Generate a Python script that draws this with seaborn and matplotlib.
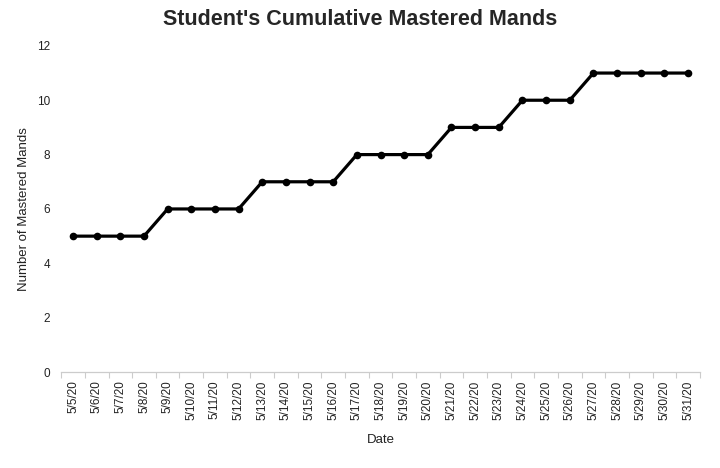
import matplotlib
matplotlib.use("Agg")
import matplotlib.pyplot as plt
import seaborn as sns
import pandas as pd

dates = ["5/5/20", "5/6/20", "5/7/20", "5/8/20", "5/9/20", "5/10/20", "5/11/20",
         "5/12/20", "5/13/20", "5/14/20", "5/15/20", "5/16/20", "5/17/20", "5/18/20",
         "5/19/20", "5/20/20", "5/21/20", "5/22/20", "5/23/20", "5/24/20", "5/25/20",
         "5/26/20", "5/27/20", "5/28/20", "5/29/20", "5/30/20", "5/31/20"]
mastered = [5, 5, 5, 5, 6, 6, 6, 6, 7, 7, 7, 7, 8, 8, 8, 8, 9, 9, 9, 10, 10, 10,
            11, 11, 11, 11, 11]
y_ticks = [0, 2, 4, 6, 8, 10, 12]

sns.set_theme(style="white")
plt.rcParams['font.family'] = ['Liberation Sans', 'DejaVu Sans']

df = pd.DataFrame({"Date": dates, "Mastered": mastered})

fig = plt.figure(figsize=(7.2, 4.68), dpi=100)
ax = fig.add_axes([0.085, 0.205, 0.887, 0.697])

sns.lineplot(data=df, x="Date", y="Mastered", sort=False, ax=ax, color="black",
             linewidth=2.3, marker="o", markersize=5.5, markeredgewidth=0)

ax.set_xlim(-0.5, len(dates) - 0.5)
ax.set_ylim(0, 12)
ax.set_yticks(y_ticks)
ax.set_yticklabels([str(t) for t in y_ticks], fontsize=8.5, color="#222222")
ax.set_xticks(range(len(dates)))
ax.set_xticklabels(dates, rotation=90, fontsize=8.5, color="#222222")
ax.tick_params(axis="y", length=0, pad=8)
ax.tick_params(axis="x", which="major", length=0, pad=6)

# minor ticks between categories on the x axis
ax.set_xticks([i - 0.5 for i in range(len(dates) + 1)], minor=True)
ax.tick_params(axis="x", which="minor", bottom=True, length=4, color="#cccccc",
               width=0.8, direction="out")

for s in ["top", "right", "left"]:
    ax.spines[s].set_visible(False)
ax.spines["bottom"].set_color("#cccccc")
ax.spines["bottom"].set_linewidth(0.9)

ax.set_xlabel("Date", fontsize=9.5, color="#222222", labelpad=10)
ax.set_ylabel("Number of Mastered Mands", fontsize=9.5, color="#222222", labelpad=5)
fig.suptitle("Student's Cumulative Mastered Mands", fontsize=15.5, fontweight="bold",
             y=0.98, x=0.5)

fig.savefig("out.png", dpi=100)
